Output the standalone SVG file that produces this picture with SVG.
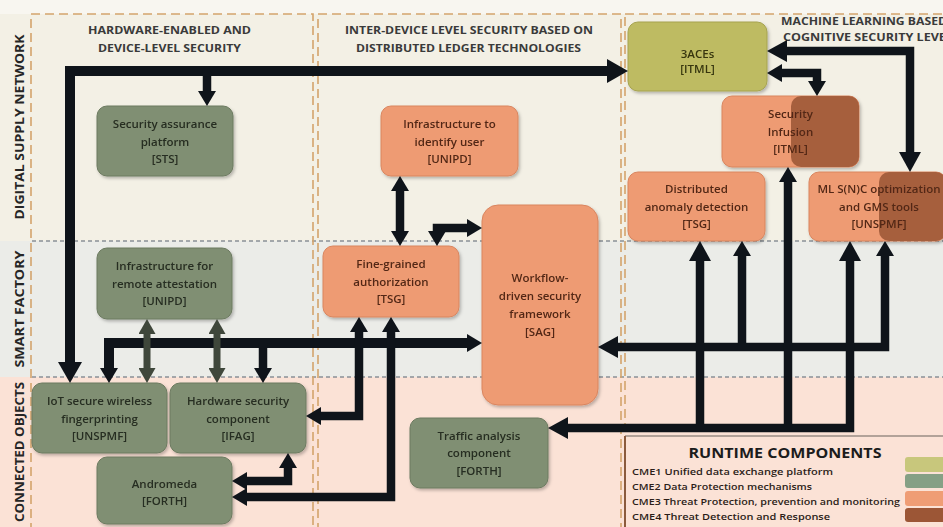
<svg xmlns="http://www.w3.org/2000/svg" width="943" height="527" viewBox="0 0 943 527">
  <style>
    .band-label { font-family: "Open Sans", "DejaVu Sans", sans-serif; font-weight: bold; font-size: 13px; fill: #262626; }
    .col-head { font-family: "Open Sans", "DejaVu Sans", sans-serif; font-weight: bold; font-size: 11px; fill: #3a3a3a; text-anchor: middle; }
    .col-head-l { font-family: "Open Sans", "DejaVu Sans", sans-serif; font-weight: bold; font-size: 11px; fill: #3a3a3a; }
    .col { fill: none; stroke: #d4a46c; stroke-width: 1.6; stroke-dasharray: 9 5; }
    .row-div { fill: none; stroke: #8b9096; stroke-width: 1.5; stroke-dasharray: 4 3; }
    .n-green { fill: #808f73; stroke: #6c7a60; stroke-width: 1; }
    .n-orange { fill: #ee9b73; stroke: #d9855f; stroke-width: 1; }
    .n-olive { fill: #bebb62; stroke: #a6a350; stroke-width: 1; }
    .n-brown { fill: #a65f3e; }
    .t { font-family: "Open Sans", "DejaVu Sans", sans-serif; font-size: 11.5px; font-weight: 600; text-anchor: middle; }
    .t-g { fill: #262d21; }
    .t-o { fill: #522816; }
    .t-y { fill: #37360f; }
    .conn { fill: none; stroke: #0f141a; stroke-width: 8.5; stroke-linejoin: miter; }
    .conn-thick { stroke-width: 10; }
    .conn-grey { fill: none; stroke: #3f473b; stroke-width: 7; }
    .legend-title { font-family: "Open Sans", "DejaVu Sans", sans-serif; font-weight: bold; font-size: 15px; fill: #1c1c1c; text-anchor: middle; }
    .legend-item { font-family: "Open Sans", "DejaVu Sans", sans-serif; font-size: 9.5px; font-weight: 600; fill: #2b1d18; }
  </style>
  <defs>
    <filter id="shadow" x="-10%" y="-10%" width="130%" height="130%">
      <feDropShadow dx="1.5" dy="2" stdDeviation="1.5" flood-color="#000" flood-opacity="0.25"/>
    </filter>
    <marker id="ah" viewBox="0 0 20 22" markerWidth="20" markerHeight="22" refX="1" refY="11" markerUnits="userSpaceOnUse" orient="auto-start-reverse">
      <path d="M0,0 L20,11 L0,22 z" fill="#0f141a"/>
    </marker>
    <marker id="ahs" viewBox="0 0 15 18" markerWidth="15" markerHeight="18" refX="1" refY="9" markerUnits="userSpaceOnUse" orient="auto-start-reverse">
      <path d="M0,0 L15,9 L0,18 z" fill="#0f141a"/>
    </marker>
    <marker id="ahb" viewBox="0 0 21 24" markerWidth="21" markerHeight="24" refX="1" refY="12" markerUnits="userSpaceOnUse" orient="auto-start-reverse">
      <path d="M0,0 L21,12 L0,24 z" fill="#0f141a"/>
    </marker>
    <marker id="ahg" viewBox="0 0 15 17" markerWidth="15" markerHeight="17" refX="1" refY="8.5" markerUnits="userSpaceOnUse" orient="auto-start-reverse">
      <path d="M0,0 L15,8.5 L0,17 z" fill="#3f473b"/>
    </marker>
  </defs>

  <!-- background bands -->
  <g id="bands">
    <rect x="0" y="0" width="943" height="527" fill="#f8f6f0"/>
    <rect x="0" y="14" width="943" height="227" fill="#f3f0e5"/>
    <rect x="0" y="241" width="943" height="136" fill="#ebece8"/>
    <rect x="0" y="377" width="943" height="150" fill="#fbe2d6"/>
    <line class="row-div" x1="32" y1="241" x2="943" y2="241"/>
    <line class="row-div" x1="32" y1="377" x2="943" y2="377"/>
    <rect class="col" x="31" y="14" width="282" height="530"/>
    <rect class="col" x="318" y="14" width="303" height="530"/>
    <rect class="col" x="625" y="14" width="330" height="530"/>
  </g>

  <!-- row labels -->
  <g id="row-labels">
    <text class="band-label" transform="translate(24,127) rotate(-90)" text-anchor="middle" textLength="185" lengthAdjust="spacingAndGlyphs">DIGITAL SUPPLY NETWORK</text>
    <text class="band-label" transform="translate(24,309) rotate(-90)" text-anchor="middle" textLength="117" lengthAdjust="spacingAndGlyphs">SMART FACTORY</text>
    <text class="band-label" transform="translate(24,452) rotate(-90)" text-anchor="middle" textLength="140" lengthAdjust="spacingAndGlyphs">CONNECTED OBJECTS</text>
  </g>

  <!-- column headers -->
  <g id="col-headers">
    <text class="col-head" x="169.5" y="33.5" textLength="163" lengthAdjust="spacingAndGlyphs">HARDWARE-ENABLED AND</text>
    <text class="col-head" x="169.5" y="51.5" textLength="143" lengthAdjust="spacingAndGlyphs">DEVICE-LEVEL SECURITY</text>
    <text class="col-head" x="469" y="33.5" textLength="248" lengthAdjust="spacingAndGlyphs">INTER-DEVICE LEVEL SECURITY BASED ON</text>
    <text class="col-head" x="468.5" y="51.5" textLength="225" lengthAdjust="spacingAndGlyphs">DISTRIBUTED LEDGER TECHNOLOGIES</text>
    <text class="col-head-l" x="781" y="25" textLength="166" lengthAdjust="spacingAndGlyphs">MACHINE LEARNING BASED</text>
    <text class="col-head-l" x="783" y="41" textLength="170" lengthAdjust="spacingAndGlyphs">COGNITIVE SECURITY LEVEL</text>
  </g>

  <!-- nodes -->
  <g id="node-sts" filter="url(#shadow)">
    <rect class="n-green" x="97" y="106" width="136" height="70" rx="10"/>
    <text class="t t-g" x="165" y="128">Security assurance</text>
    <text class="t t-g" x="165" y="145.5">platform</text>
    <text class="t t-g" x="165" y="163">[STS]</text>
  </g>
  <g id="node-remote-attestation" filter="url(#shadow)">
    <rect class="n-green" x="97" y="248" width="135" height="71" rx="10"/>
    <text class="t t-g" x="164.5" y="270">Infrastructure for</text>
    <text class="t t-g" x="164.5" y="287.5">remote attestation</text>
    <text class="t t-g" x="164.5" y="305">[UNIPD]</text>
  </g>
  <g id="node-iot-fingerprinting" filter="url(#shadow)">
    <rect class="n-green" x="32" y="383" width="135" height="70" rx="10"/>
    <text class="t t-g" x="99.5" y="405">IoT secure wireless</text>
    <text class="t t-g" x="99.5" y="422.5">fingerprinting</text>
    <text class="t t-g" x="99.5" y="440">[UNSPMF]</text>
  </g>
  <g id="node-hardware-security" filter="url(#shadow)">
    <rect class="n-green" x="170" y="383" width="136" height="70" rx="10"/>
    <text class="t t-g" x="238" y="405">Hardware security</text>
    <text class="t t-g" x="238" y="422.5">component</text>
    <text class="t t-g" x="238" y="440">[IFAG]</text>
  </g>
  <g id="node-andromeda" filter="url(#shadow)">
    <rect class="n-green" x="97" y="457" width="135" height="67" rx="10"/>
    <text class="t t-g" x="164.5" y="487.5">Andromeda</text>
    <text class="t t-g" x="164.5" y="505">[FORTH]</text>
  </g>
  <g id="node-identify-user" filter="url(#shadow)">
    <rect class="n-orange" x="381" y="106" width="137" height="70" rx="10"/>
    <text class="t t-o" x="449.5" y="128">Infrastructure to</text>
    <text class="t t-o" x="449.5" y="145.5">identify user</text>
    <text class="t t-o" x="449.5" y="163">[UNIPD]</text>
  </g>
  <g id="node-fine-grained" filter="url(#shadow)">
    <rect class="n-orange" x="323" y="246" width="136" height="71" rx="10"/>
    <text class="t t-o" x="391" y="268">Fine-grained</text>
    <text class="t t-o" x="391" y="285.5">authorization</text>
    <text class="t t-o" x="391" y="303">[TSG]</text>
  </g>
  <g id="node-workflow" filter="url(#shadow)">
    <rect class="n-orange" x="482" y="205" width="116" height="200" rx="16"/>
    <text class="t t-o" x="540" y="282">Workflow-</text>
    <text class="t t-o" x="540" y="300">driven security</text>
    <text class="t t-o" x="540" y="318">framework</text>
    <text class="t t-o" x="540" y="335.5">[SAG]</text>
  </g>
  <g id="node-traffic-analysis" filter="url(#shadow)">
    <rect class="n-green" x="410" y="418" width="138" height="70" rx="10"/>
    <text class="t t-g" x="479" y="440">Traffic analysis</text>
    <text class="t t-g" x="479" y="457">component</text>
    <text class="t t-g" x="479" y="475">[FORTH]</text>
  </g>
  <g id="node-3aces" filter="url(#shadow)">
    <rect class="n-olive" x="628" y="22" width="139" height="69" rx="10"/>
    <text class="t t-y" x="697.5" y="57.5">3ACEs</text>
    <text class="t t-y" x="697.5" y="73">[ITML]</text>
  </g>
  <g id="node-security-infusion" filter="url(#shadow)">
    <rect class="n-orange" x="722" y="96" width="137" height="71" rx="10"/>
    <rect class="n-brown" x="791" y="96" width="68" height="71" rx="10"/>
    <text class="t t-o" x="790.5" y="118">Security</text>
    <text class="t t-o" x="790.5" y="135.5">Infusion</text>
    <text class="t t-o" x="790.5" y="153">[ITML]</text>
  </g>
  <g id="node-anomaly-detection" filter="url(#shadow)">
    <rect class="n-orange" x="628" y="172" width="137" height="69" rx="10"/>
    <text class="t t-o" x="696.5" y="193">Distributed</text>
    <text class="t t-o" x="696.5" y="210.5">anomaly detection</text>
    <text class="t t-o" x="696.5" y="228">[TSG]</text>
  </g>
  <g id="node-ml-optimization" filter="url(#shadow)">
    <rect class="n-orange" x="809" y="172" width="137" height="69" rx="10"/>
    <rect class="n-brown" x="879" y="172" width="67" height="69" rx="10"/>
    <text class="t t-o" x="879" y="193">ML S(N)C optimization</text>
    <text class="t t-o" x="879" y="210.5">and GMS tools</text>
    <text class="t t-o" x="879" y="228">[UNSPMF]</text>
  </g>

  <!-- connectors -->
  <g id="connectors">
    <path class="conn conn-thick" d="M70,363 V71 H608" marker-start="url(#ahb)" marker-end="url(#ahb)"/>
    <path class="conn" d="M207,71 V92" marker-end="url(#ahs)"/>
    <path class="conn conn-thick" d="M109,369 V343 H468" marker-start="url(#ahs)" marker-end="url(#ahs)"/>
    <path class="conn" d="M263,343 V369" marker-end="url(#ahs)"/>
    <path class="conn-grey" d="M147,333 V369" marker-start="url(#ahg)" marker-end="url(#ahg)"/>
    <path class="conn-grey" d="M217,333 V369" marker-start="url(#ahg)" marker-end="url(#ahg)"/>
    <path class="conn" d="M320,416 H359 V331" marker-start="url(#ahs)" marker-end="url(#ahs)"/>
    <path class="conn" d="M246,497 H391 V331" marker-start="url(#ahs)" marker-end="url(#ahs)"/>
    <path class="conn" d="M246,481 H288 V467" marker-start="url(#ahs)" marker-end="url(#ahs)"/>
    <path class="conn" d="M400,190 V232" marker-start="url(#ahs)" marker-end="url(#ahs)"/>
    <path class="conn" d="M437,232 V228 H468" marker-start="url(#ahs)" marker-end="url(#ahs)"/>
    <path class="conn" d="M617,347 H885 V255" marker-start="url(#ah)" marker-end="url(#ahs)"/>
    <path class="conn" d="M742,347 V255" marker-end="url(#ahs)"/>
    <path class="conn" d="M567,428 H850 V260" marker-start="url(#ah)" marker-end="url(#ah)"/>
    <path class="conn" d="M700,428 V260" marker-end="url(#ah)"/>
    <path class="conn" d="M788,428 V181" marker-end="url(#ahs)"/>
    <path class="conn" d="M781,73 H817 V82" marker-start="url(#ahs)" marker-end="url(#ahs)"/>
    <path class="conn" d="M786,51 H910 V153" marker-start="url(#ah)" marker-end="url(#ah)"/>
  </g>

  <!-- legend -->
  <g id="legend">
    <line x1="625" y1="436" x2="943" y2="436" stroke="#9a8c84" stroke-width="1.5"/>
    <line x1="625" y1="436" x2="625" y2="527" stroke="#8b5a3c" stroke-width="2"/>
    <text class="legend-title" x="785" y="458" textLength="193" lengthAdjust="spacingAndGlyphs">RUNTIME COMPONENTS</text>
    <text class="legend-item" x="632" y="474.5" textLength="201" lengthAdjust="spacingAndGlyphs">CME1 Unified data exchange platform</text>
    <text class="legend-item" x="632" y="489.5" textLength="180" lengthAdjust="spacingAndGlyphs">CME2 Data Protection mechanisms</text>
    <text class="legend-item" x="632" y="504.5" textLength="268" lengthAdjust="spacingAndGlyphs">CME3 Threat Protection, prevention and monitoring</text>
    <text class="legend-item" x="632" y="519.5" textLength="198" lengthAdjust="spacingAndGlyphs">CME4 Threat Detection and Response</text>
    <rect x="905" y="457" width="44" height="15" rx="3" fill="#c8c77c"/>
    <rect x="905" y="474" width="44" height="14" rx="3" fill="#86a085"/>
    <rect x="905" y="491" width="44" height="15" rx="3" fill="#ef9d75"/>
    <rect x="905" y="508" width="44" height="14" rx="3" fill="#9c5636"/>
  </g>
</svg>
